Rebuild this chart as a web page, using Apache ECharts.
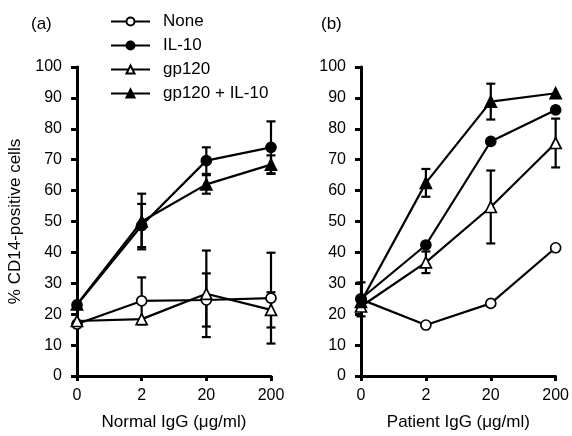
<!DOCTYPE html>
<html><head><meta charset="utf-8">
<script src="https://cdn.jsdelivr.net/npm/echarts@6/dist/echarts.min.js"></script>
<style>html,body{margin:0;padding:0;background:#fff}#c{width:572px;height:436px}</style>
</head><body><div id="c"></div>
<script>
var categories = ['0', '2', '20', '200'];
var seriesNames = ['None', 'IL-10', 'gp120', 'gp120 + IL-10'];
var yTicks = [0, 10, 20, 30, 40, 50, 60, 70, 80, 90, 100];

// Panel (a): Normal IgG
var aNone = [16.8, 24.3, 24.6, 25.2];
var aNoneErr = [0, 7.6, 8.6, 14.7];
var aIL10 = [23, 48.7, 69.7, 74];
var aIL10Err = [0, 7, 4.3, 8.4];
var aGp = [17.8, 18.4, 26.6, 21.4];
var aGpErr = [0, 0, 14, 5.7];
var aGpIL = [23.2, 50, 62, 68.4];
var aGpILErr = [0, 9, 3, 3];

// Panel (b): Patient IgG
var bNone = [24.8, 16.5, 23.5, 41.5];
var bNoneErr = [5.5, 0, 0, 0];
var bIL10 = [25, 42.4, 75.9, 86.1];
var bIL10Err = [0, 0, 0, 0];
var bGp = [22.5, 36.8, 54.7, 75.4];
var bGpErr = [0, 3.5, 11.8, 7.9];
var bGpIL = [24, 62.5, 88.8, 91.5];
var bGpILErr = [0, 4.5, 5.8, 0];

var FONT = 'Liberation Sans, Arial, Helvetica, sans-serif';
var symbols = {
  'None': {symbol: 'circle', fill: '#fff', size: 10},
  'IL-10': {symbol: 'circle', fill: '#000', size: 10},
  'gp120': {symbol: 'triangle', fill: '#fff', size: 11},
  'gp120 + IL-10': {symbol: 'triangle', fill: '#000', size: 11}
};

function lineSeries(name, data, gi) {
  var s = symbols[name];
  return {
    type: 'line', name: name, xAxisIndex: gi, yAxisIndex: gi, data: data,
    symbol: s.symbol, symbolSize: s.size, showAllSymbol: true,
    lineStyle: {color: '#000', width: 2.2},
    itemStyle: {color: s.fill, borderColor: '#000', borderWidth: 1.7},
    z: 3, animation: false
  };
}
function errSeries(vals, errs, gi) {
  var d = [];
  for (var i = 0; i < vals.length; i++) {
    if (errs[i] > 0) d.push([i, vals[i] - errs[i], vals[i] + errs[i]]);
  }
  return {
    type: 'custom', xAxisIndex: gi, yAxisIndex: gi, data: d, z: 2, animation: false,
    renderItem: function (params, api) {
      var lo = api.coord([api.value(0), api.value(1)]);
      var hi = api.coord([api.value(0), api.value(2)]);
      var w = 4.5;
      var st = {stroke: '#000', lineWidth: 2.2};
      return {type: 'group', children: [
        {type: 'line', shape: {x1: hi[0], y1: hi[1], x2: lo[0], y2: lo[1]}, style: st},
        {type: 'line', shape: {x1: hi[0] - w, y1: hi[1], x2: hi[0] + w, y2: hi[1]}, style: st},
        {type: 'line', shape: {x1: lo[0] - w, y1: lo[1], x2: lo[0] + w, y2: lo[1]}, style: st}
      ]};
    }
  };
}

function xAxis(gi, name) {
  return {
    type: 'category', gridIndex: gi, data: categories, boundaryGap: false,
    name: name, nameLocation: 'middle', nameGap: 38,
    nameTextStyle: {color: '#000', fontSize: 17, fontFamily: FONT},
    axisLine: {lineStyle: {color: '#000', width: 3}},
    axisTick: {show: true, length: 5, lineStyle: {color: '#000', width: 3}},
    axisLabel: {color: '#000', fontSize: 16, fontFamily: FONT, margin: 12},
    splitLine: {show: false}
  };
}
function yAxis(gi, name) {
  return {
    type: 'value', gridIndex: gi, min: 0, max: 100, interval: 10,
    name: name, nameLocation: 'middle', nameGap: 53, nameRotate: 90,
    nameTextStyle: {color: '#000', fontSize: 17, fontFamily: FONT},
    axisLine: {show: true, lineStyle: {color: '#000', width: 3}},
    axisTick: {show: true, length: 6, lineStyle: {color: '#000', width: 3}},
    axisLabel: {color: '#000', fontSize: 16, fontFamily: FONT, margin: 15,
      formatter: function (v) { return yTicks.indexOf(v) >= 0 ? String(v) : ''; }},
    splitLine: {show: false}
  };
}

var chart = echarts.init(document.getElementById('c'), null, {renderer: 'canvas'});
chart.setOption({
  backgroundColor: '#fff',
  animation: false,
  title: [
    {text: '(a)', left: 26, top: 11, textStyle: {fontSize: 17, fontWeight: 'normal', color: '#000', fontFamily: FONT}},
    {text: '(b)', left: 316, top: 11, textStyle: {fontSize: 17, fontWeight: 'normal', color: '#000', fontFamily: FONT}}
  ],
  legend: {
    data: seriesNames, orient: 'vertical', left: 110, top: 13, itemGap: 7,
    itemWidth: 39, itemHeight: 10, padding: 0,
    textStyle: {color: '#000', fontSize: 17, fontFamily: FONT, padding: [0, 0, 0, 8]}
  },
  grid: [
    {left: 77, top: 67, width: 194, height: 310},
    {left: 361, top: 67, width: 199, height: 310}
  ],
  xAxis: [xAxis(0, 'Normal IgG (\u03bcg/ml)'), xAxis(1, 'Patient IgG (\u03bcg/ml)')],
  yAxis: [yAxis(0, '% CD14-positive cells'), yAxis(1, '')],
  series: [
    errSeries(aNone, aNoneErr, 0), errSeries(aIL10, aIL10Err, 0),
    errSeries(aGp, aGpErr, 0), errSeries(aGpIL, aGpILErr, 0),
    errSeries(bNone, bNoneErr, 1), errSeries(bIL10, bIL10Err, 1),
    errSeries(bGp, bGpErr, 1), errSeries(bGpIL, bGpILErr, 1),
    lineSeries('None', aNone, 0), lineSeries('IL-10', aIL10, 0),
    lineSeries('gp120', aGp, 0), lineSeries('gp120 + IL-10', aGpIL, 0),
    lineSeries('None', bNone, 1), lineSeries('IL-10', bIL10, 1),
    lineSeries('gp120', bGp, 1), lineSeries('gp120 + IL-10', bGpIL, 1)
  ]
});
</script></body></html>
